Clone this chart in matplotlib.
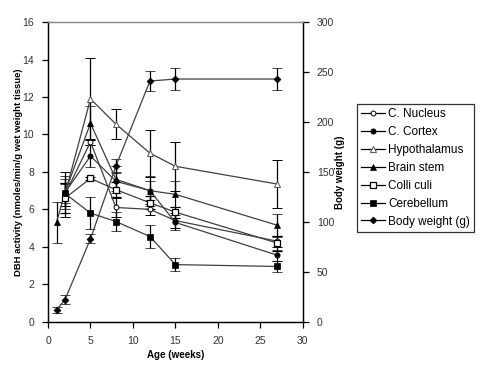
import matplotlib
matplotlib.use("Agg")
import matplotlib.pyplot as plt
from matplotlib.lines import Line2D

plt.rcParams['font.family'] = ['Liberation Sans', 'DejaVu Sans']

# ages in weeks
weeks = [1, 2, 5, 8, 12, 15, 27]
weeks_b = [2, 5, 8, 12, 15, 27]  # most regions start at week 2

c_nucleus = [6.8, 9.6, 6.1, 6.0, 5.4, 4.3]
c_nucleus_err = [0.6, 0.15, 0.5, 0.3, 0.4, 0.3]
c_cortex = [6.9, 8.85, 7.5, 7.0, 5.3, 3.55]
c_cortex_err = [0.7, 0.6, 0.5, 0.5, 0.4, 0.3]
hypothalamus = [6.8, 11.9, 10.55, 9.0, 8.3, 7.35]
hypothalamus_err = [1.2, 2.2, 0.8, 1.25, 1.3, 1.3]
brain_stem = [5.3, 6.9, 10.6, 7.6, 7.0, 6.8, 5.15]
brain_stem_err = [1.1, 0.9, 0.9, 0.7, 0.8, 0.7, 0.6]
colli_culi = [6.6, 7.65, 7.05, 6.35, 5.85, 4.2]
colli_culi_err = [0.8, 0.1, 0.4, 0.35, 0.3, 0.4]
cerebellum = [6.85, 5.8, 5.35, 4.55, 3.05, 2.95]
cerebellum_err = [0.5, 0.85, 0.5, 0.6, 0.35, 0.3]
body_weight = [12, 22, 83, 156, 241, 243, 243]
body_weight_err = [3, 4.5, 4.5, 7, 10, 11, 11]

line_col = '#404040'
fig = plt.figure(figsize=(4.83, 3.81), dpi=100)
ax = fig.add_axes([0.0994, 0.1556, 0.5276, 0.7864])
ax2 = ax.twinx()

common = dict(color=line_col, lw=0.9, ecolor='black', elinewidth=0.9,
              capsize=3.5, capthick=0.9)

styles = [
    ('C. Nucleus', dict(marker='o', ms=3.5, mfc='white', mec='black', mew=0.7)),
    ('C. Cortex', dict(marker='o', ms=3.8, mfc='black', mec='black', mew=0.5)),
    ('Hypothalamus', dict(marker='^', ms=4, mfc='white', mec='#555555', mew=0.7)),
    ('Brain stem', dict(marker='^', ms=4, mfc='black', mec='black', mew=0.5)),
    ('Colli culi', dict(marker='s', ms=4, mfc='white', mec='black', mew=0.9)),
    ('Cerebellum', dict(marker='s', ms=4, mfc='black', mec='black', mew=0.5)),
    ('Body weight (g)', dict(marker='D', ms=3.5, mfc='black', mec='black', mew=0.5)),
]
series = [
    (ax, weeks_b, c_nucleus, c_nucleus_err),
    (ax, weeks_b, c_cortex, c_cortex_err),
    (ax, weeks_b, hypothalamus, hypothalamus_err),
    (ax, weeks, brain_stem, brain_stem_err),
    (ax, weeks_b, colli_culi, colli_culi_err),
    (ax, weeks_b, cerebellum, cerebellum_err),
    (ax2, weeks, body_weight, body_weight_err),
]

handles = []
for (name, st), (a, x, y, e) in zip(styles, series):
    a.errorbar(x, y, yerr=e, **st, **common)
    handles.append(Line2D([], [], color='black', lw=0.9, label=name, **st))

ax.set_xlim(0, 30)
ax.set_ylim(0, 16)
ax2.set_ylim(0, 300)
ax.set_xticks([0, 5, 10, 15, 20, 25, 30])
ax.set_yticks(range(0, 17, 2))
ax2.set_yticks(range(0, 301, 50))

for a in (ax, ax2):
    a.tick_params(direction='out', length=4, width=0.9, labelsize=7.5,
                  labelcolor='#333333', pad=6)
    for s in a.spines.values():
        s.set_linewidth(0.9)
ax.spines['top'].set_color('#888888')
ax2.spines['top'].set_color('#888888')

ax.set_xlabel('Age (weeks)', fontsize=7, fontweight='bold')
ax.xaxis.set_label_coords(0.5, -0.095)
ax.set_ylabel('DBH activity (nmoles/min/g wet weight tissue)', fontsize=6.8,
              fontweight='bold')
ax.yaxis.set_label_coords(-0.1, 0.5)
ax2.set_ylabel('Body weight (g)', fontsize=7, fontweight='bold')
ax2.yaxis.set_label_coords(1.125, 0.5)

leg = fig.legend(handles=handles, loc='upper left',
                 bbox_to_anchor=(357 / 483, 1 - 104 / 381), fontsize=8.5,
                 frameon=True, fancybox=False, edgecolor='black',
                 handlelength=2.0, handletextpad=0.3, labelspacing=0.5,
                 borderpad=0.35, borderaxespad=0)
leg.get_frame().set_linewidth(0.9)

fig.savefig('out.png', dpi=100)
